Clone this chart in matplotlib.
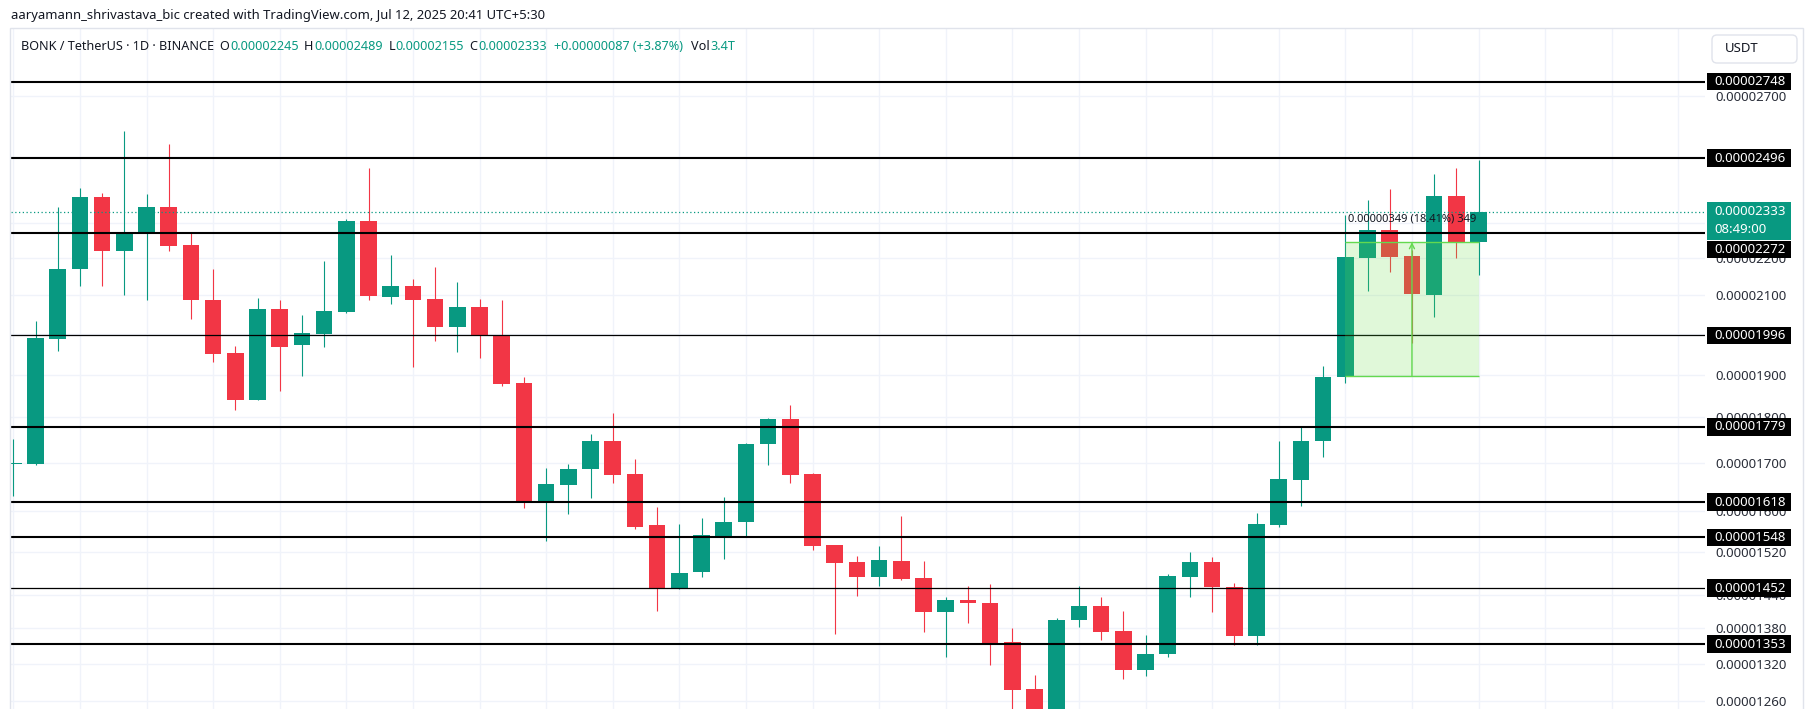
import matplotlib
matplotlib.use('Agg')
import matplotlib.pyplot as plt
import matplotlib.transforms as mtransforms
from matplotlib.patches import Rectangle, FancyBboxPatch
from matplotlib.ticker import FixedLocator, NullLocator, FuncFormatter
import numpy as np

plt.rcParams['font.family'] = ['Noto Sans', 'DejaVu Sans']

# daily BONK/USDT candles, prices in units of 0.00000001 USDT
opens = [1698, 1698, 1988, 2169, 2377, 2221, 2271, 2347, 2237, 2087,
         1953, 1841, 2064, 1971, 2000, 2057, 2306, 2096, 2125, 2090,
         2018, 2069, 1997, 1880, 1619, 1654, 1686, 1748, 1677, 1571,
         1452, 1481, 1551, 1577, 1740, 1797, 1677, 1532, 1500, 1472,
         1502, 1471, 1408, 1431, 1425, 1356, 1278, 1222, 1394, 1420,
         1376, 1310, 1336, 1473, 1500, 1454, 1366, 1571, 1664, 1747,
         1895, 2201, 2280, 2206, 2100, 2380, 2245]
highs = [1752, 2033, 2346, 2404, 2388, 2583, 2386, 2542, 2273, 2171,
         1970, 2093, 2086, 2049, 2192, 2311, 2466, 2209, 2144, 2176,
         2135, 2090, 2087, 1894, 1690, 1698, 1764, 1810, 1708, 1608,
         1574, 1586, 1629, 1743, 1799, 1829, 1678, 1533, 1512, 1530,
         1590, 1503, 1435, 1455, 1460, 1381, 1301, 1398, 1455, 1436,
         1411, 1369, 1478, 1520, 1510, 1462, 1596, 1748, 1781, 1921,
         2323, 2368, 2401, 2223, 2447, 2466, 2489]
lows = [1630, 1695, 1958, 2125, 2125, 2101, 2086, 2221, 2039, 1931,
        1816, 1839, 1862, 1897, 1966, 2054, 2086, 2078, 1919, 1981,
        1954, 1941, 1872, 1607, 1540, 1593, 1627, 1657, 1565, 1411,
        1450, 1473, 1507, 1548, 1696, 1657, 1524, 1371, 1438, 1456,
        1467, 1374, 1331, 1390, 1317, 1232, 1212, 1214, 1383, 1360,
        1295, 1299, 1331, 1435, 1409, 1352, 1352, 1569, 1611, 1713,
        1881, 2112, 2163, 1977, 2044, 2200, 2155]
closes = [1700, 1990, 2171, 2377, 2221, 2274, 2347, 2235, 2086, 1951,
          1839, 2064, 1968, 2002, 2059, 2306, 2098, 2125, 2088, 2018,
          2069, 1995, 1878, 1617, 1656, 1687, 1748, 1675, 1569, 1452,
          1480, 1553, 1578, 1741, 1797, 1675, 1530, 1499, 1472, 1504,
          1469, 1408, 1431, 1424, 1353, 1277, 1220, 1395, 1420, 1373,
          1310, 1337, 1475, 1500, 1453, 1366, 1573, 1666, 1748, 1894,
          2203, 2280, 2204, 2104, 2380, 2246, 2333]

# horizontal support / resistance levels drawn on the chart
levels = [2748, 2496, 2272, 1996, 1779, 1618, 1548, 1452, 1353]
level_lw = [1.5, 1.5, 1.5, 0.9, 1.5, 1.5, 1.5, 0.9, 1.5]

# price scale ticks (the covered ones only keep their grid line)
tick_levels = [2700, 2500, 2300, 2200, 2100, 2000, 1900, 1800, 1700,
               1600, 1520, 1440, 1380, 1320, 1260]
covered_ticks = [2500, 2300, 2000]

countdown = "08:49:00"
volume_text = "3.4T"

# price range measurement
measure_lo, measure_hi = 1896, 2245
measure_from, measure_to = 60, 66

GREEN = '#089981'
RED = '#f23645'
DARK = '#131722'
W, H = 1813, 709


def fmt(v):
    return f"{v * 1e-8:.8f}"


fig = plt.figure(figsize=(W / 100, H / 100), dpi=100)
fig.patch.set_facecolor('white')

# pane in pixels (top-left origin)
PL, PT, PR, PB = 11, 28, 1705, 709
ax = fig.add_axes([PL / W, (H - PB) / H, (PR - PL) / W, (PB - PT) / H])
ax.set_facecolor('white')
ax.set_yscale('log')
ax.set_ylim(1246.7, 2940.4)
ax.set_xlim(-0.104, 76.2)

for s in ax.spines.values():
    s.set_visible(False)

ax.set_xticks(np.arange(0, 77, 3))
ax.tick_params(axis='x', length=0, labelbottom=False)
ax.yaxis.set_major_locator(FixedLocator(tick_levels))
ax.yaxis.set_minor_locator(NullLocator())
ax.yaxis.set_major_formatter(FuncFormatter(
    lambda v, p: '' if round(v) in covered_ticks else fmt(v)))
ax.yaxis.tick_right()
ax.tick_params(axis='y', length=0, pad=7.2, labelsize=9.5, labelcolor='#2a2e39',
               labelright=True, labelleft=False)
ax.grid(True, color='#f0f3fa', lw=1)
ax.set_axisbelow(True)

# candles
idx = np.arange(len(opens))
o = np.array(opens)
c = np.array(closes)
cols = np.where(c >= o, GREEN, RED)
ax.vlines(idx, lows, highs, colors=cols, lw=0.8, zorder=2)
body_lo = np.minimum(o, c)
body_h = np.maximum(np.abs(c - o), 1.5)
ax.bar(idx, body_h, bottom=body_lo, width=0.75, color=cols, lw=0, zorder=2.1)

# current price dotted line
ax.axhline(closes[-1], color=GREEN, lw=0.9, ls=(0, (1, 2)), zorder=2.5)

# levels
for lv, lw in zip(levels, level_lw):
    ax.axhline(lv, color='black', lw=lw, zorder=3)

# price range box
ax.add_patch(Rectangle((measure_from, measure_lo), measure_to - measure_from,
                       measure_hi - measure_lo, fc=(0.40, 0.87, 0.27, 0.2),
                       ec='none', zorder=4))
ax.hlines([measure_lo, measure_hi], measure_from, measure_to, color='#63d94f', lw=1, zorder=4.1)
mid = (measure_from + measure_to) / 2
ax.annotate('', xy=(mid, measure_hi), xytext=(mid, measure_lo),
            arrowprops=dict(arrowstyle='->', color='#63d94f', lw=1, shrinkA=0, shrinkB=0,
                            mutation_scale=9), zorder=4.2)
diff = measure_hi - measure_lo
ax.annotate(f"{fmt(diff)} ({diff / measure_lo * 100:.2f}%) {diff}", (mid, measure_hi),
            xytext=(0, 16.5), textcoords='offset points', ha='center', va='center',
            fontsize=8, color=DARK, zorder=5)

# price scale labels (pixel coords, bottom origin)
ident = mtransforms.IdentityTransform()


def ydisp(p):
    return ax.transData.transform((0, p))[1]


BX0, BX1 = 1707, 1791
y_last = ydisp(closes[-1])
last_top, last_bot = y_last + 9.6, y_last - 28.4
fig.add_artist(Rectangle((BX0, last_bot), BX1 - BX0, last_top - last_bot,
                         transform=ident, fc=GREEN, ec='none', zorder=10))
fig.text(1714, y_last, fmt(closes[-1]), transform=ident, color='white',
         fontsize=9.5, va='center', ha='left', zorder=11)
fig.text(1714, y_last - 17.6, countdown, transform=ident, color='white',
         fontsize=9.5, va='center', ha='left', zorder=11)

for lv in levels:
    yc = ydisp(lv)
    top, bot = yc + 8.7, yc - 8.7
    if bot < last_top and top > last_bot:
        # pushed below the live price label
        top = last_bot - 0.5
        bot = top - 17.4
    fig.add_artist(Rectangle((BX0, bot), BX1 - BX0, top - bot, transform=ident,
                             fc='black', ec='none', zorder=10))
    fig.text(1714, (top + bot) / 2, fmt(lv), transform=ident, color='white',
             fontsize=9.5, va='center', ha='left', zorder=11)

# USDT currency button
fig.add_artist(FancyBboxPatch((1712, H - 63), 85, 28, transform=ident,
                              boxstyle='round,pad=0,rounding_size=5',
                              fc='white', ec='#e0e3eb', lw=1, zorder=10))
fig.text(1725, H - 49, "USDT", transform=ident, fontsize=9.5, color=DARK,
         va='center', ha='left', zorder=11)

# chart frame
fig.add_artist(Rectangle((10, -2), 1793, H - 28 + 2, transform=ident,
                         fc='none', ec='#e0e3eb', lw=1, zorder=1))

# header lines
fig.text(11, H - 16, "aaryamann_shrivastava_bic created with TradingView.com, Jul 12, 2025 20:41 UTC+5:30",
         transform=ident, fontsize=9.4, color=DARK, va='center', ha='left')

chg = closes[-1] - closes[-2]
segs = [("BONK / TetherUS · 1D · BINANCE", DARK, 0),
        ("O", DARK, 4), (fmt(opens[-1]), GREEN, 0.5),
        ("H", DARK, 4), (fmt(highs[-1]), GREEN, 0.5),
        ("L", DARK, 4), (fmt(lows[-1]), GREEN, 0.5),
        ("C", DARK, 4), (fmt(closes[-1]), GREEN, 0.5),
        (f"+{fmt(chg)} (+{chg / closes[-2] * 100:.2f}%)", GREEN, 5),
        ("Vol", DARK, 6), (volume_text, GREEN, 0.3)]
prev = None
for s, col, gap in segs:
    if prev is None:
        prev = fig.text(21, H - 47, s, transform=ident, fontsize=9.1, color=col,
                        va='center', ha='left')
    else:
        prev = ax.annotate(s, xy=(1, 0.5), xycoords=prev, xytext=(gap, 0),
                           textcoords='offset points', fontsize=9.1, color=col,
                           va='center', ha='left', annotation_clip=False)

fig.savefig('out.png', dpi=100)
